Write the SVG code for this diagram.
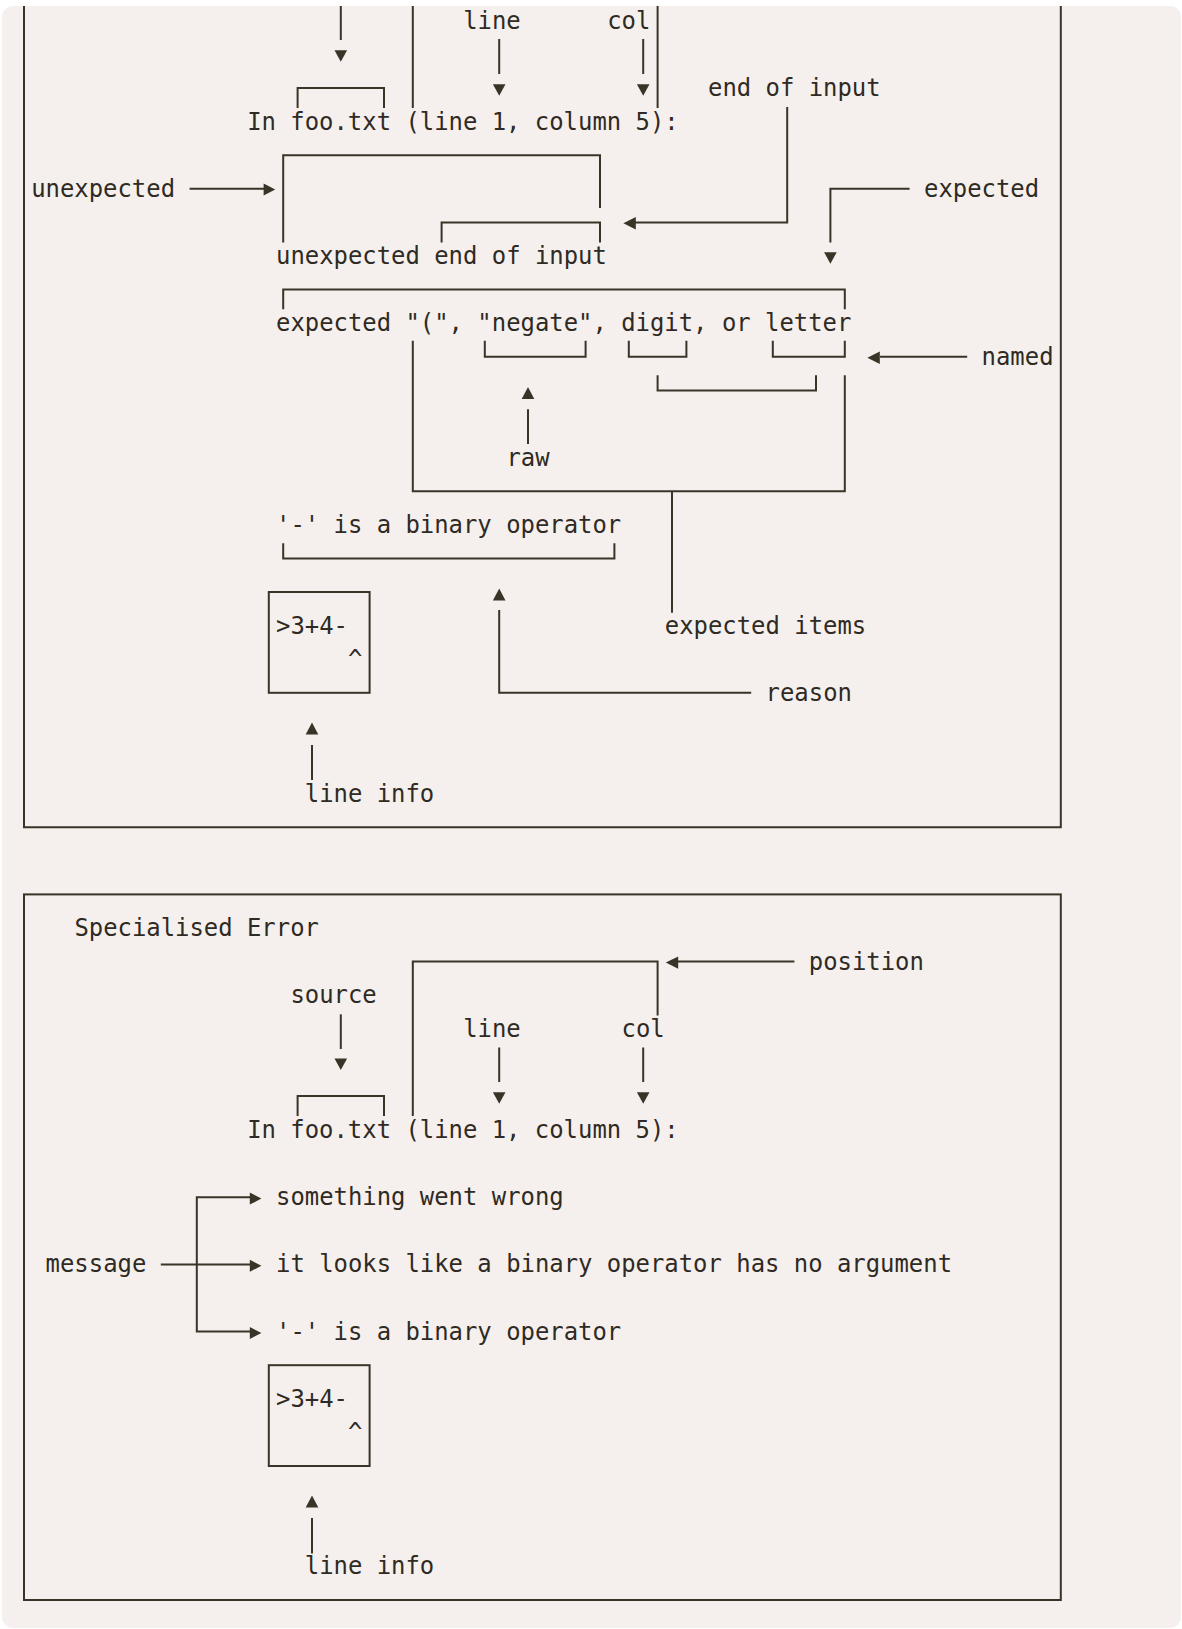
<svg xmlns="http://www.w3.org/2000/svg" width="1182" height="1629" viewBox="0 0 1182 1629">
<style>
  text { font-family: "DejaVu Sans Mono", "Liberation Mono", monospace; font-size: 23.9px; fill: #2f2a23; }
  .ln { fill: none; stroke: #3a3327; stroke-width: 2; stroke-linejoin: miter; }
  .ar { fill: #3a3327; }
</style>
<defs>
  <path id="tri-down" d="M-6.3,-5.8 H6.3 L0,5.8 Z"/>
  <path id="tri-up" d="M-6.3,6 H6.3 L0,-6 Z"/>
  <path id="tri-left" d="M6.2,-6.2 V6.2 L-6.2,0 Z"/>
  <path id="tri-right" d="M-5.8,-6 V6 L5.8,0 Z"/>
</defs>
<rect width="1182" height="1629" fill="#ffffff"/>
<rect x="2" y="6" width="1179" height="1622" rx="11" fill="#f5f0ed"/>

<g id="frame-generic">
  <path class="ln" d="M24,6 V827.2 H1060.8 V6"/>
</g>
<g id="frame-specialised">
  <rect class="ln" x="24" y="894.4" width="1036.8" height="705.6"/>
</g>

<g id="connectors">
  <!-- first box -->
  <path class="ln" d="M340.8,6 V40"/>
  <path class="ln" d="M412.8,6 V108"/>
  <path class="ln" d="M657.6,6 V108"/>
  <path class="ln" d="M499.2,39 V74"/>
  <path class="ln" d="M643.2,39 V74"/>
  <path class="ln" d="M297.6,108 V88 H384 V108"/>
  <path class="ln" d="M787.2,107 V222.4 H635"/>
  <path class="ln" d="M283.2,242.5 V155.2 H600 V208"/>
  <path class="ln" d="M441.6,242.5 V222.4 H600 V242.5"/>
  <path class="ln" d="M189.6,188.8 H264"/>
  <path class="ln" d="M909.6,188.8 H830.4 V242.5"/>
  <path class="ln" d="M283.2,309.3 V289.6 H844.8 V309.3"/>
  <path class="ln" d="M484.8,340.7 V356.8 H585.6 V340.7"/>
  <path class="ln" d="M628.8,340.7 V356.8 H686.4 V340.7"/>
  <path class="ln" d="M772.8,340.7 V356.8 H844.8 V340.7"/>
  <path class="ln" d="M657.6,375.3 V390.4 H816 V375.3"/>
  <path class="ln" d="M412.8,340.7 V491.2 H844.8 V375.3"/>
  <path class="ln" d="M672,491.2 V612.7"/>
  <path class="ln" d="M528,409.3 V444"/>
  <path class="ln" d="M880,356.8 H967.2"/>
  <path class="ln" d="M283.2,543.3 V558.4 H614.4 V543.3"/>
  <rect class="ln" x="268.8" y="592" width="100.8" height="100.8"/>
  <path class="ln" d="M499.2,610 V692.8 H751.2"/>
  <path class="ln" d="M312,745 V780"/>
  <use class="ar" href="#tri-down" x="340.8" y="56"/>
  <use class="ar" href="#tri-down" x="499.2" y="90"/>
  <use class="ar" href="#tri-down" x="643.2" y="90"/>
  <use class="ar" href="#tri-left" x="629.6" y="223.2"/>
  <use class="ar" href="#tri-right" x="269.4" y="189.6"/>
  <use class="ar" href="#tri-down" x="830.4" y="258"/>
  <use class="ar" href="#tri-left" x="873.6" y="357.8"/>
  <use class="ar" href="#tri-up" x="528" y="393"/>
  <use class="ar" href="#tri-up" x="499.2" y="594.5"/>
  <use class="ar" href="#tri-up" x="312" y="728.5"/>
  <!-- second box -->
  <path class="ln" d="M412.8,1116 V961.6 H657.6 V1015.5"/>
  <path class="ln" d="M678,961.6 H794.4"/>
  <path class="ln" d="M340.8,1014.3 V1049"/>
  <path class="ln" d="M499.2,1047.5 V1082"/>
  <path class="ln" d="M643.2,1047.5 V1082"/>
  <path class="ln" d="M297.6,1116 V1096 H384 V1116"/>
  <path class="ln" d="M250,1197.2 H196.8 V1331.6 H250"/>
  <path class="ln" d="M160.8,1264.4 H250"/>
  <rect class="ln" x="268.8" y="1365.2" width="100.8" height="100.8"/>
  <path class="ln" d="M312,1518 V1553.4"/>
  <use class="ar" href="#tri-left" x="672" y="962.6"/>
  <use class="ar" href="#tri-down" x="340.8" y="1064.3"/>
  <use class="ar" href="#tri-down" x="499.2" y="1098"/>
  <use class="ar" href="#tri-down" x="643.2" y="1098"/>
  <use class="ar" href="#tri-right" x="255.6" y="1198.6"/>
  <use class="ar" href="#tri-right" x="255.6" y="1265.8"/>
  <use class="ar" href="#tri-right" x="255.6" y="1333"/>
  <use class="ar" href="#tri-up" x="312" y="1501.5"/>
</g>

<g id="generic-labels">
  <g id="lbl-line-1"><text x="463.2" y="28.8">line</text></g>
  <g id="lbl-col-1"><text x="607.2" y="28.8">col</text></g>
  <g id="lbl-end-of-input"><text x="708" y="96">end of input</text></g>
  <g id="pos-line-1"><text x="247.2" y="129.6">In foo.txt (line 1, column 5):</text></g>
  <g id="lbl-unexpected"><text x="31.2" y="196.8">unexpected</text></g>
  <g id="lbl-expected"><text x="924" y="196.8">expected</text></g>
  <g id="unexpected-line"><text x="276" y="264">unexpected end of input</text></g>
  <g id="expected-line"><text x="276" y="331.2">expected "(", "negate", digit, or letter</text></g>
  <g id="lbl-named"><text x="981.6" y="364.8">named</text></g>
  <g id="lbl-raw"><text x="506.4" y="465.6">raw</text></g>
  <g id="reason-line-1"><text x="276" y="532.8">'-' is a binary operator</text></g>
  <g id="lineinfo-box-1"><text x="276" y="633.6">&gt;3+4-</text><text x="348" y="667.2">^</text></g>
  <g id="lbl-expected-items"><text x="664.8" y="633.6">expected items</text></g>
  <g id="lbl-reason"><text x="765.6" y="700.8">reason</text></g>
  <g id="lbl-line-info-1"><text x="304.8" y="801.6">line info</text></g>
</g>

<g id="specialised-labels">
  <g id="title-specialised"><text x="74.4" y="936">Specialised Error</text></g>
  <g id="lbl-position"><text x="808.8" y="969.6">position</text></g>
  <g id="lbl-source"><text x="290.4" y="1003.2">source</text></g>
  <g id="lbl-line-2"><text x="463.2" y="1036.8">line</text></g>
  <g id="lbl-col-2"><text x="621.6" y="1036.8">col</text></g>
  <g id="pos-line-2"><text x="247.2" y="1137.6">In foo.txt (line 1, column 5):</text></g>
  <g id="msg-1"><text x="276" y="1205.2">something went wrong</text></g>
  <g id="lbl-message"><text x="45.6" y="1272.4">message</text></g>
  <g id="msg-2"><text x="276" y="1272.4">it looks like a binary operator has no argument</text></g>
  <g id="msg-3"><text x="276" y="1339.6">'-' is a binary operator</text></g>
  <g id="lineinfo-box-2"><text x="276" y="1406.8">&gt;3+4-</text><text x="348" y="1440.4">^</text></g>
  <g id="lbl-line-info-2"><text x="304.8" y="1574.4">line info</text></g>
</g>
</svg>
